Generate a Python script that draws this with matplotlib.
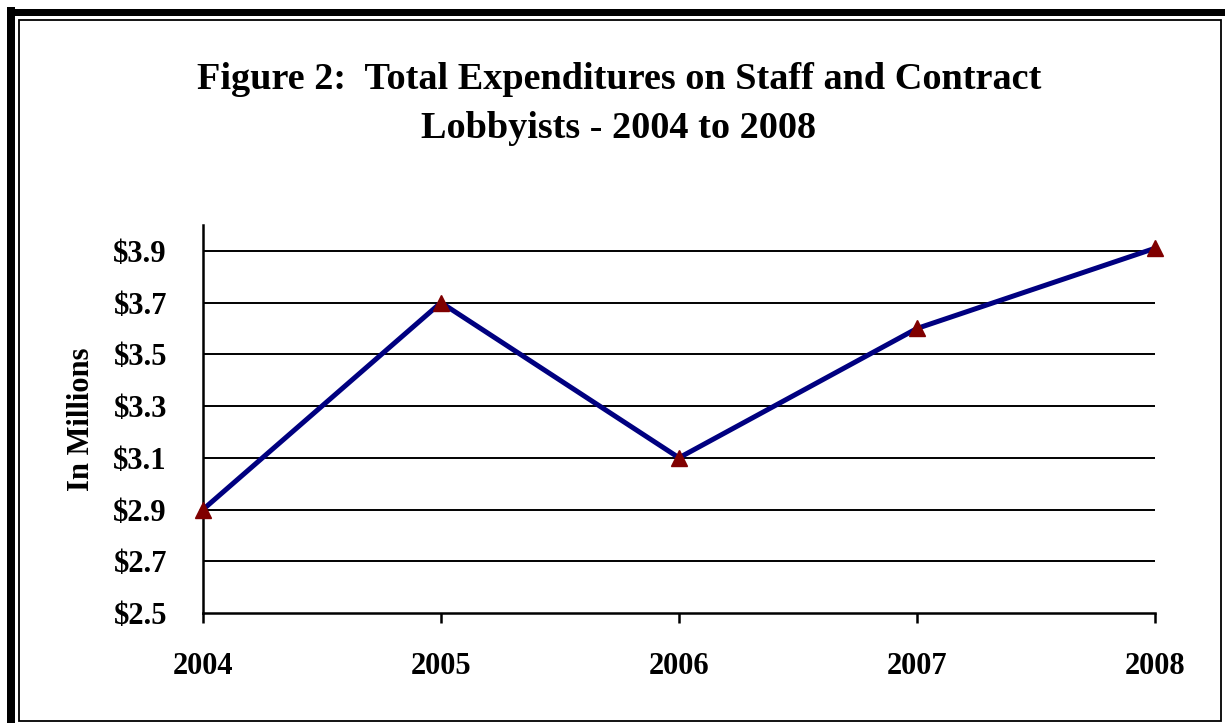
import matplotlib
matplotlib.use("Agg")
import matplotlib.pyplot as plt
from matplotlib.patches import Rectangle

# data
years = ["2004", "2005", "2006", "2007", "2008"]
spending = [2.9, 3.7, 3.1, 3.6, 3.91]  # millions of dollars
y_ticks = [2.5, 2.7, 2.9, 3.1, 3.3, 3.5, 3.7, 3.9]

plt.rcParams['font.family'] = ['Liberation Serif', 'DejaVu Serif']
plt.rcParams['font.weight'] = 'bold'

W, H = 1225, 723
fig = plt.figure(figsize=(W / 100, H / 100), dpi=100)

# frame: thick bars top/left, thin box inside
def px_rect(x0, y0, x1, y1, **kw):
    # pixel coords from top-left -> figure fraction
    return Rectangle((x0 / W, 1 - y1 / H), (x1 - x0) / W, (y1 - y0) / H,
                     transform=fig.transFigure, **kw)

fig.patches.append(px_rect(7, 7, 15, H + 5, facecolor='black', edgecolor='none'))
fig.patches.append(px_rect(7, 9, W + 5, 16, facecolor='black', edgecolor='none'))
fig.patches.append(px_rect(18.5, 19.5, 1221, 721, facecolor='none',
                           edgecolor='black', linewidth=1.3))

ax = fig.add_axes([203 / W, 1 - 613 / H, 952 / W, 388 / H])

x = list(range(len(years)))
ax.plot(x, spending, color='#000080', linewidth=3.6, zorder=3,
        marker='^', markersize=11, markerfacecolor='#800000',
        markeredgecolor='#800000', clip_on=False)

ax.set_xlim(0, len(years) - 1)
ax.set_ylim(2.5, 4.0)
ax.set_yticks(y_ticks)
ax.set_yticklabels([f"${v:.1f}" for v in y_ticks])
ax.set_xticks(x)
ax.set_xticklabels(years)

for v in y_ticks[1:]:
    ax.axhline(v, color='black', linewidth=1.4, zorder=1)

for s in ['top', 'right']:
    ax.spines[s].set_visible(False)
for s in ['left', 'bottom']:
    ax.spines[s].set_linewidth(1.8)

ax.tick_params(axis='y', length=0, pad=26, labelsize=22)
ax.tick_params(axis='x', length=7, width=1.8, direction='out', pad=21, labelsize=22)

ax.set_ylabel("In Millions", fontsize=22, fontweight='bold', va='center')
ax.yaxis.set_label_coords(-0.128, 0.5)

fig.text(619 / W, 1 - 62 / H,
         "Figure 2:  Total Expenditures on Staff and Contract\nLobbyists - 2004 to 2008",
         ha='center', va='top', fontsize=27.5, fontweight='bold', linespacing=1.5)

fig.savefig("out.png", dpi=100)
